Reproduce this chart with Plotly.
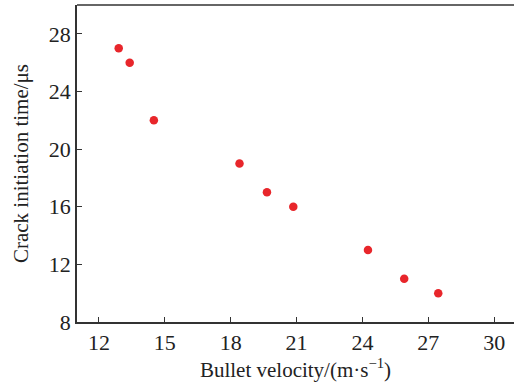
import plotly.graph_objects as go

velocity = [12.9, 13.4, 14.5, 18.4, 19.65, 20.85, 24.25, 25.9, 27.45]
crack_time = [27, 26, 22, 19, 17, 16, 13, 11, 10]
x_ticks = [12, 15, 18, 21, 24, 27, 30]
y_ticks = [8, 12, 16, 20, 24, 28]

font_family = "Liberation Serif"

fig = go.Figure()
fig.add_trace(go.Scatter(
    x=velocity, y=crack_time, mode="markers",
    marker=dict(color="#e8262b", size=8.5, line=dict(width=0)),
    showlegend=False,
))

fig.update_layout(
    width=514, height=385,
    margin=dict(l=77, r=0, t=5, b=63),
    paper_bgcolor="white", plot_bgcolor="white",
    font=dict(family=font_family, size=22, color="#222"),
    xaxis=dict(
        range=[11, 30.9], tickvals=x_ticks, ticktext=[str(v) for v in x_ticks],
        ticks="inside", ticklen=5, tickcolor="#333", tickwidth=1,
        showline=True, linecolor="#333", linewidth=1.5,
        showgrid=False, zeroline=False, tickfont=dict(size=22),
        title=dict(text="Bullet velocity/(m·s<sup>−1</sup>)", font=dict(size=21), standoff=8),
    ),
    yaxis=dict(
        range=[8, 30], tickvals=y_ticks, ticktext=[str(v) for v in y_ticks],
        ticks="inside", ticklen=5, tickcolor="#333", tickwidth=1,
        showline=True, linecolor="#333", linewidth=1.5,
        showgrid=False, zeroline=False, tickfont=dict(size=22),
        title=dict(text="Crack initiation time/μs", font=dict(size=21), standoff=14),
    ),
    shapes=[dict(type="line", xref="paper", yref="paper", x0=0, x1=1, y0=1, y1=1,
                 line=dict(color="#666", width=2))],
)

fig.write_html("out.html")
